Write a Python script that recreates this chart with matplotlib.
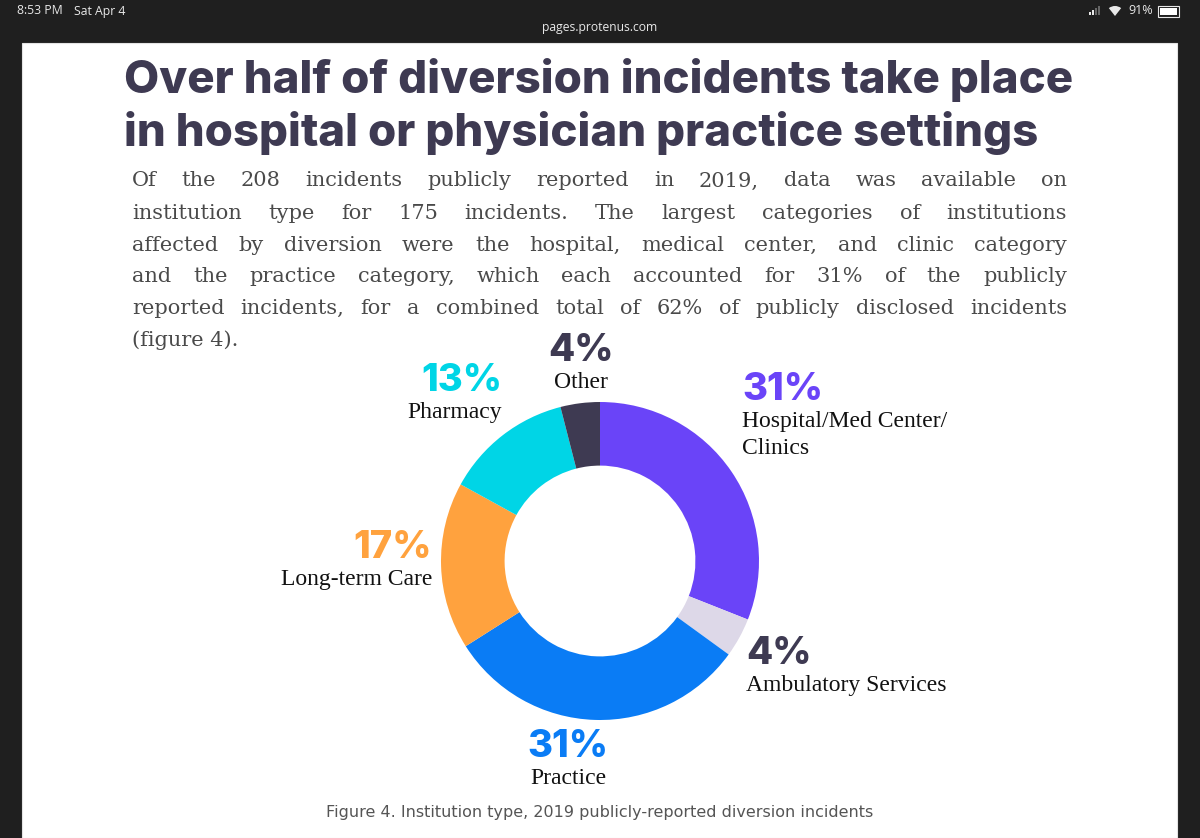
# OBJECTIVE
    # screenshot of a report page with a donut chart of institution types

import matplotlib.pyplot as plt
from matplotlib.patches import Rectangle, Wedge

# data, clockwise from 12 o'clock
categories = ["Hospital/Med Center/\nClinics", "Ambulatory Services", "Practice", "Long-term Care", "Pharmacy", "Other"]
values = [31, 4, 31, 17, 13, 4]
colors = ["#6a44f8", "#ddd8e8", "#0a7cf5", "#ffa23e", "#00d5e6", "#3e3a52"]

title_lines = ["Over half of diversion incidents take place", "in hospital or physician practice settings"]
body_lines = [
    "Of the 208 incidents publicly reported in 2019, data was available on",
    "institution type for 175 incidents. The largest categories of institutions",
    "affected by diversion were the hospital, medical center, and clinic category",
    "and the practice category, which each accounted for 31% of the publicly",
    "reported incidents, for a combined total of 62% of publicly disclosed incidents",
]
body_last = "(figure 4)."
caption = "Figure 4. Institution type, 2019 publicly-reported diversion incidents"

W, H = 1200, 838
DARK = "#1f1f1f"
INK = "#3e3a52"
STATUS = "#e8e8e8"

fig = plt.figure(figsize=(W / 100, H / 100), dpi=100, facecolor=DARK)

# page axes in pixel coordinates, y going down
page = fig.add_axes([0, 0, 1, 1])
page.set_xlim(0, W)
page.set_ylim(H, 0)
page.axis("off")
page.add_patch(Rectangle((22, 43), 1155, H - 43, facecolor="white", edgecolor="#e4e4e4", linewidth=0.8))

# status bar
page.text(17, 11, "8:53 PM", color=STATUS, fontsize=8.8, family="Open Sans", va="center")
page.text(74, 11, "Sat Apr 4", color=STATUS, fontsize=8.8, family="Open Sans", va="center")
page.text(600, 27, "pages.protenus.com", color=STATUS, fontsize=8.7, family="Open Sans", va="center", ha="center")
page.text(1128, 11, "91%", color=STATUS, fontsize=9, family="Open Sans", va="center")
page.add_patch(Wedge((1115, 16), 10, 232, 308, facecolor=STATUS, edgecolor="none"))
page.add_patch(Rectangle((1158, 6), 21, 11, facecolor="none", edgecolor=STATUS, linewidth=0.8))
page.add_patch(Rectangle((1160, 8), 17, 7, facecolor="white", edgecolor="none"))
for i, h in enumerate([3, 5, 7, 9]):
    page.add_patch(Rectangle((1089 + i * 3, 15 - h), 2, h, facecolor=STATUS if i < 2 else "#666666"))

# title
for line, y in zip(title_lines, [80, 133]):
    page.text(124, y, line, color=INK, fontsize=32.8, fontweight=800, family="Inter", va="center")

# justified body text, words spread out to the column width
renderer = fig.canvas.get_renderer()
left, right = 132, 1067
for line, y in zip(body_lines, [181, 213, 245, 276, 308]):
    words = [page.text(0, y, w, color="#4a4a4a", fontsize=15, family="DejaVu Serif", va="center") for w in line.split()]
    widths = [t.get_window_extent(renderer).width for t in words]
    gap = (right - left - sum(widths)) / (len(words) - 1)
    x = left
    for t, w in zip(words, widths):
        t.set_x(x)
        x += w + gap
page.text(left, 340, body_last, color="#4a4a4a", fontsize=15, family="DejaVu Serif", va="center")

# donut
donut = fig.add_axes([441 / W, 1 - 720 / H, 318 / W, 318 / H])
donut.pie(values, colors=colors, startangle=90, counterclock=False, radius=1,
          wedgeprops={"width": 0.4, "linewidth": 0})
donut.set_xlim(-1, 1)
donut.set_ylim(-1, 1)
donut.axis("off")

# labels: x, y of percent, y of name, alignment, colour
label_spots = [
    (742, 390, 435, "left", colors[0]),
    (746, 654, 685, "left", INK),
    (568, 747, 778, "center", colors[2]),
    (432, 548, 579, "right", colors[3]),
    (502, 381, 412, "right", colors[4]),
    (581, 351, 382, "center", INK),
]
for cat, val, (x, y1, y2, ha, col) in zip(categories, values, label_spots):
    page.text(x, y1, f"{val}%", color=col, fontsize=27.5, fontweight=800, family="Inter", ha=ha, va="center")
    page.text(x, y2, cat, color="#111111", fontsize=17, family="Liberation Serif", ha=ha, va="center", linespacing=1.35)

# caption
page.text(600, 812, caption, color="#555555", fontsize=11.55, family="DejaVu Sans", ha="center", va="center")

fig.savefig("out.png", dpi=100, facecolor=DARK)
